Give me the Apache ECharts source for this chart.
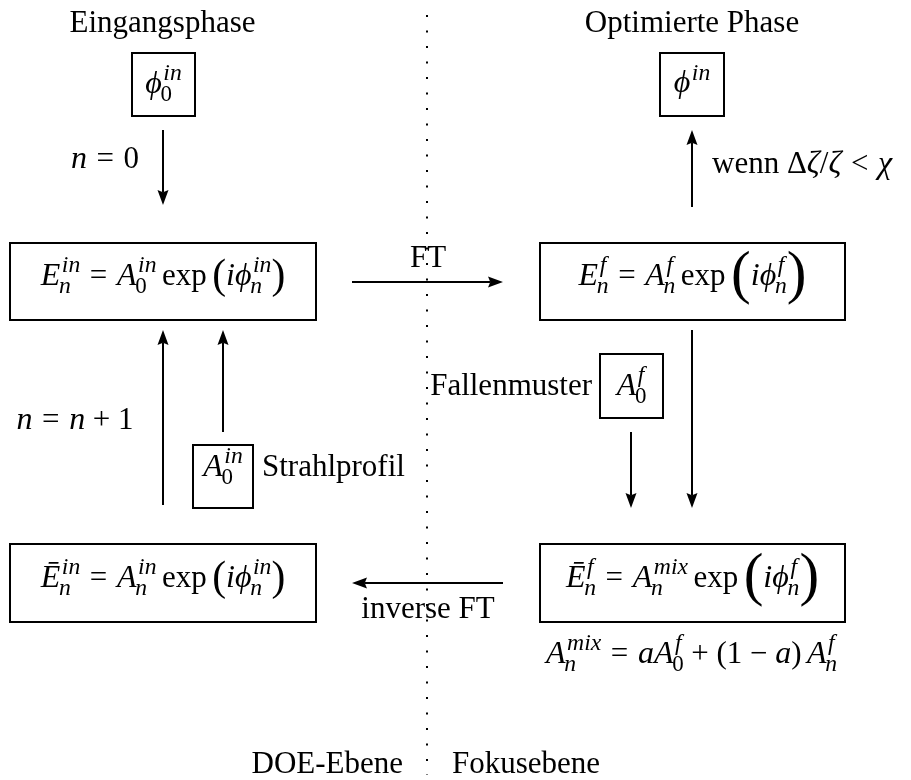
<!DOCTYPE html>
<html>
<head>
<meta charset="utf-8">
<script src="https://cdn.jsdelivr.net/npm/echarts@6/dist/echarts.min.js"></script>
<style>
  html, body { margin: 0; background: #fff; }
  #main { width: 911px; height: 780px; }
</style>
</head>
<body>
<div id="main"></div>
<script>
// Rahmen: [x1, y1, x2, y2]
var frames = [
    [10, 243, 316, 320],    // E_n^in
    [540, 243, 845, 320],   // E_n^f
    [10, 544, 316, 622],    // Ē_n^in
    [540, 544, 845, 622],   // Ē_n^f
    [132, 53, 195, 116],    // phi_0^in
    [660, 53, 724, 116],    // phi^in
    [193, 445, 253, 508],   // A_0^in
    [600, 354, 663, 418]    // A_0^f
];

// Texte (mini-LaTeX), Ankerpunkt = Grundlinie
var labels = [
    'E_{n}^{in} = A_{0}^{in}\\exp\\bl i\\phi_{n}^{in}\\br',
    'E_{n}^{f} = A_{n}^{f}\\exp\\Bl i\\phi_{n}^{f}\\Br',
    '\\barE_{n}^{in} = A_{n}^{in}\\exp\\bl i\\phi_{n}^{in}\\br',
    '\\barE_{n}^{f} = A_{n}^{mix}\\exp\\Bl i\\phi_{n}^{f}\\Br',
    '\\phi_{0}^{in}',
    '\\phi^{in}',
    'A_{0}^{in}',
    'A_{0}^{f}',
    '\\t{Eingangsphase}',
    '\\t{Optimierte Phase}',
    'n = 0',
    '\\t{wenn }\\Delta\\zeta/\\zeta < \\chi',
    '\\t{FT}',
    '\\t{Fallenmuster}',
    'n = n + 1',
    '\\t{Strahlprofil}',
    '\\t{inverse FT}',
    'A_{n}^{mix} = aA_{0}^{f} + (1 - a)\\,A_{n}^{f}',
    '\\t{DOE-Ebene}',
    '\\t{Fokusebene}'
];
var labelX = [163, 692.5, 163, 692.5, 163.5, 692, 223, 631.5, 162.5, 692, 105, 712, 428, 592, 75, 262, 428, 691.5, 403, 452];
var labelY = [285, 285, 587, 587, 93, 92, 476, 395, 32, 32, 168, 173, 267, 395, 429, 476, 618, 663, 773, 773];
var labelAlign = ['center', 'center', 'center', 'center', 'center', 'center', 'center', 'center',
    'center', 'center', 'center', 'left', 'center', 'right', 'center', 'left', 'center', 'center', 'right', 'left'];

// Pfeile: [x1, y1, x2 (Spitze), y2 (Spitze)]
var arrows = [
    [163, 130, 163, 205],   // n = 0
    [692, 207, 692, 130],   // wenn ...
    [352, 282, 503, 282],   // FT
    [503, 583, 352, 583],   // inverse FT
    [163, 505, 163, 330],   // n = n + 1
    [223, 432, 223, 330],   // Strahlprofil
    [631, 432, 631, 508],   // Fallenmuster
    [692, 330, 692, 508]
];

// Trennlinie DOE-Ebene / Fokusebene
var divider = [[427, 15], [427, 775]];


var F = 32;            // Mathe
var TEXT_SCALE = 31 / 32;
var SCRIPT = 0.74;
var FAMILY = '"Liberation Serif", "DejaVu Serif", serif';
var ctx = document.createElement('canvas').getContext('2d');
var midCache = {};

var MACROS = {
    exp: { t: 'exp', l: 0.17, r: 0.17, k: TEXT_SCALE },
    phi: { t: '\u03d5', it: true },
    zeta: { t: '\u03b6', it: true },
    chi: { t: '\u03c7', it: true },
    Delta: { t: '\u0394', k: TEXT_SCALE },
    barE: { t: '\u0112', it: true },
    bl: { t: '(', k: 1.3, dy: 0.08 },
    br: { t: ')', k: 1.3, dy: 0.08 },
    Bl: { t: '(', k: 1.85, dy: 0.22 },
    Br: { t: ')', k: 1.85, dy: 0.22 }
};

function readGroup(s, i) {
    if (s.charAt(i) === '{') {
        var k = s.indexOf('}', i);
        return { body: s.slice(i + 1, k), end: k + 1 };
    }
    return { body: s.charAt(i), end: i + 1 };
}

function parse(src) {
    var out = [], i = 0;
    while (i < src.length) {
        var c = src.charAt(i);
        if (c === ' ') { i++; continue; }
        if (c === '_' || c === '^') {
            var g = readGroup(src, i + 1);
            out[out.length - 1][c === '_' ? 'sub' : 'sup'] = parse(g.body);
            i = g.end;
            continue;
        }
        if (c === '\\') {
            var m = /^[A-Za-z]+/.exec(src.slice(i + 1));
            if (!m) { out.push({ t: '', l: 0.17 }); i += 2; continue; }
            var name = m[0];
            i += 1 + name.length;
            if (name === 't') {
                var g2 = readGroup(src, i);
                out.push({ t: g2.body, k: TEXT_SCALE });
                i = g2.end;
                continue;
            }
            out.push(Object.assign({}, MACROS[name]));
            continue;
        }
        if (/[A-Za-z]/.test(c)) out.push({ t: c, it: true });
        else if (c === '=' || c === '<') out.push({ t: c, l: 0.3, r: 0.3, k: TEXT_SCALE });
        else if (c === '+' || c === '-') out.push({ t: c === '-' ? '\u2212' : c, l: 0.24, r: 0.24, k: TEXT_SCALE });
        else out.push({ t: c, k: TEXT_SCALE });
        i++;
    }
    return out;
}

function measure(t, font) {
    ctx.font = font;
    return ctx.measureText(t).width;
}

function midShift(font, size) {
    if (midCache[font] == null) {
        ctx.font = font;
        ctx.textBaseline = 'alphabetic';
        var a = ctx.measureText('x').fontBoundingBoxAscent;
        ctx.textBaseline = 'middle';
        var m = ctx.measureText('x').fontBoundingBoxAscent;
        ctx.textBaseline = 'alphabetic';
        midCache[font] = (a != null && m != null) ? a - m : 0.34 * size;
    }
    return midCache[font];
}

// Atome nebeneinander setzen, Hoch-/Tiefstellung uebereinander
function place(atoms, size, x, base, out) {
    atoms.forEach(function (a) {
        x += (a.l || 0) * size;
        var s = size * (a.k || 1);
        var font = (a.it ? 'italic ' : '') + s.toFixed(2) + 'px ' + FAMILY;
        var b = base + (a.dy || 0) * size;
        if (a.t) {
            out.push({ t: a.t, x: x, b: b, font: font, size: s });
            x += measure(a.t, font);
        }
        if (a.sup || a.sub) {
            var ss = size * SCRIPT, x1 = x, x2 = x;
            if (a.sup) x1 = place(a.sup, ss, x + (a.it ? 0.05 * size : 0), base - (a.sub ? 0.42 : 0.38) * size, out);
            if (a.sub) x2 = place(a.sub, ss, x - (a.it ? 0.04 * size : 0), base + (a.sup ? 0.26 : 0.2) * size, out);
            x = Math.max(x1, x2);
        }
        x += (a.r || 0) * size;
    });
    return x;
}

var parsed = labels.map(parse);

var chart = echarts.init(document.getElementById('main'));
var option = {
    backgroundColor: '#fff',
    animation: false,
    grid: { left: 0, right: 0, top: 0, bottom: 0 },
    xAxis: { type: 'value', min: 0, max: 911, show: false },
    yAxis: { type: 'value', min: 0, max: 780, inverse: true, show: false },
    series: [
        {
            type: 'line',
            data: divider,
            symbol: 'none',
            silent: true,
            lineStyle: { color: '#000', width: 2, type: [2, 13.5] }
        },
        {
            type: 'custom',
            data: frames,
            silent: true,
            renderItem: function (params, api) {
                var p1 = api.coord([api.value(0), api.value(1)]);
                var p2 = api.coord([api.value(2), api.value(3)]);
                return {
                    type: 'rect',
                    shape: { x: p1[0], y: p1[1], width: p2[0] - p1[0], height: p2[1] - p1[1] },
                    style: { fill: 'none', stroke: '#000', lineWidth: 2 }
                };
            }
        },
        {
            type: 'custom',
            data: arrows,
            silent: true,
            renderItem: function (params, api) {
                var p1 = api.coord([api.value(0), api.value(1)]);
                var p2 = api.coord([api.value(2), api.value(3)]);
                var dx = p2[0] - p1[0], dy = p2[1] - p1[1];
                var L = Math.sqrt(dx * dx + dy * dy), ux = dx / L, uy = dy / L;
                var HL = 15, HW = 5.5;
                var bx = p2[0] - ux * HL, by = p2[1] - uy * HL;
                var nx = p2[0] - ux * HL * 0.85, ny = p2[1] - uy * HL * 0.85;
                return {
                    type: 'group',
                    children: [
                        {
                            type: 'line',
                            shape: { x1: p1[0], y1: p1[1], x2: nx, y2: ny },
                            style: { stroke: '#000', lineWidth: 2 }
                        },
                        {
                            type: 'polygon',
                            shape: { points: [p2, [bx - uy * HW, by + ux * HW], [nx, ny], [bx + uy * HW, by - ux * HW]] },
                            style: { fill: '#000' }
                        }
                    ]
                };
            }
        },
        {
            type: 'custom',
            data: labelX.map(function (x, i) { return [x, labelY[i]]; }),
            silent: true,
            renderItem: function (params, api) {
                var i = params.dataIndex;
                var p = api.coord([api.value(0), api.value(1)]);
                var pieces = [];
                var w = place(parsed[i], F, 0, 0, pieces);
                var off = labelAlign[i] === 'center' ? -w / 2 : (labelAlign[i] === 'right' ? -w : 0);
                return {
                    type: 'group',
                    children: pieces.map(function (q) {
                        return {
                            type: 'text',
                            x: p[0] + off + q.x,
                            y: p[1] + q.b - midShift(q.font, q.size),
                            style: { text: q.t, font: q.font, fill: '#000', align: 'left', verticalAlign: 'middle' }
                        };
                    })
                };
            }
        }
    ]
};
chart.setOption(option);
</script>
</body>
</html>
